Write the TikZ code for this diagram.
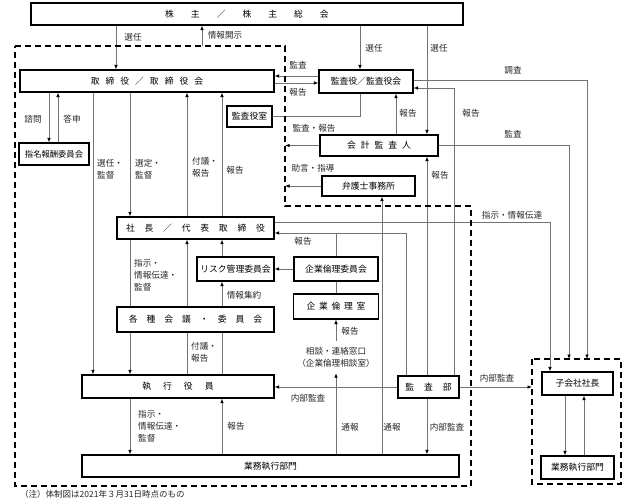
\documentclass[tikz,border=0pt]{standalone}
\usepackage{fontspec}
\setmainfont{Noto Sans CJK JP}
\usetikzlibrary{arrows.meta,backgrounds,calc}
\newcommand\sg[1]{\hspace*{#1pt}}
\tikzset{
 box/.style={draw=black, line width=1.3pt, fill=white, inner sep=0pt, font=\fontsize{8.8}{10}\selectfont},
 conn/.style={draw=black!55, line width=0.8pt},
 arr/.style={conn, -{Latex[length=4.5pt,width=3.6pt,color=black]}},
 lbl/.style={font=\fontsize{8.6}{12}\selectfont, inner sep=0pt, text=black!85, align=left},
 dbox/.style={draw=black, line width=1.3pt, dash pattern=on 6pt off 4pt},
}
\begin{document}
\begin{tikzpicture}[x=1pt,y=-1pt]
\path[use as bounding box] (0,0) rectangle (624,503);
% columns / rows
\foreach \n in {49,58,93,116,130,187,202,222,360,382,396,406,427,454,550,565,584}{\coordinate (x\n) at (\n,0);}
\foreach \n in {76,80,83,88,222,233}{\coordinate (r\n) at (0,\n);}
\coordinate (dR) at (285,0);
\coordinate (dS) at (532,0);
\coordinate (s569) at (569,359);
\coordinate (s587) at (587,359);
\coordinate (d202) at (202,46);

% boxes
\node[box,minimum width=432pt,minimum height=22pt] (sh) at (247,14) {株\sg{17}主\sg{17}／\sg{17}株\sg{17}主\sg{17}総\sg{17}会};
\node[box,minimum width=254pt,minimum height=22pt] (bd) at (147,81) {取\sg{6}締\sg{6}役\sg{6}／\sg{6}取\sg{6}締\sg{6}役\sg{6}会};
\node[box,minimum width=94pt,minimum height=23pt] (ab) at (366,81.5) {監査役／監査役会};
\node[box,minimum width=45pt,minimum height=21pt] (abr) at (249.5,116.5) {監査役室};
\node[box,minimum width=70pt,minimum height=22pt,font=\fontsize{8.3}{10}\selectfont] (nc) at (54,154) {指名報酬委員会};
\node[box,minimum width=118pt,minimum height=21pt] (ca) at (379,145.5) {会\sg{5}計\sg{5}監\sg{5}査\sg{5}人};
\node[box,minimum width=93pt,minimum height=20pt] (law) at (368.5,186) {弁護士事務所};
\node[box,minimum width=157pt,minimum height=22pt] (pr) at (195.5,228) {社\sg{9.8}長\sg{9.8}／\sg{9.8}代\sg{9.8}表\sg{9.8}取\sg{9.8}締\sg{9.8}役};
\node[box,minimum width=77pt,minimum height=24pt] (risk) at (235.5,269) {リスク管理委員会};
\node[box,minimum width=84pt,minimum height=24pt] (ecc) at (336,269) {企業倫理委員会};
\node[box,minimum width=85pt,minimum height=25pt] (eo) at (336,306.5) {企\sg{3.7}業\sg{3.7}倫\sg{3.7}理\sg{3.7}室};
\node[box,minimum width=157pt,minimum height=25pt] (mtg) at (195.5,319.5) {各\sg{9}種\sg{9}会\sg{9}議\sg{9}・\sg{9}委\sg{9}員\sg{9}会};
\node[box,minimum width=192pt,minimum height=23pt] (ex) at (178,386.5) {執\sg{12}行\sg{12}役\sg{12}員};
\node[box,minimum width=61pt,minimum height=22pt] (ia) at (428.5,387) {監\sg{10}査\sg{10}部};
\node[box,minimum width=377pt,minimum height=22pt] (bu) at (270.5,466) {業務執行部門};
\node[box,minimum width=71pt,minimum height=23pt] (sub) at (577.5,383.5) {子会社社長};
\node[box,minimum width=73pt,minimum height=23pt] (sbu) at (577.5,467.5) {業務執行部門};
\node[lbl,align=center,inner xsep=2pt,inner ysep=6pt] (consult) at (336,357) {相談・連絡窓口\\（企業倫理相談室）};

% dashed groups
\draw[dbox] (15,46) -- (285,46) -- (285,206) -- (471,206) -- (471,486) -- (15,486) -- cycle;
\draw[dbox] (532,359) rectangle (621,484);

\begin{scope}[on background layer]
\draw[arr] (sh.south -| x116) -- (bd.north -| x116);
\draw[arr] (d202) -- (sh.south -| d202);
\draw[arr] (sh.south -| x360) -- (ab.north -| x360);
\draw[arr] (sh.south -| x427) -- (ca.north -| x427);
\draw[arr] (ab.west |- r76) -- (bd.east |- r76);
\draw[arr] (bd.east |- r83) -- (ab.west |- r83);
\draw[conn] (abr.east) -| (ab.south -| x360);
\draw[arr] (ca.north -| x396) -- (ab.south -| x396);
\draw[arr] (ab.east |- r80) -| (s587);
\draw[arr] (ia.north -| x454) |- (ab.east |- r88);
\draw[arr] (ca.east) -| (s569);
\draw[arr] (ca.west) -- (ca.west -| dR);
\draw[arr] (law.west) -- (law.west -| dR);
\draw[arr] (bu.north -| x382) -- (law.south -| x382);
\draw[arr] (ia.north -| x427) -- (ca.south -| x427);
\draw[arr] (ia.south -| x427) -- (bu.north -| x427);
\draw[arr] (ia.north -| x406) |- (pr.east |- r233);
\draw[conn] (ecc.north) -- (ecc.north |- r233);
\draw[conn] (ecc.south) -- (eo.north);
\draw[arr] (consult.north) -- (eo.south);
\draw[arr] (bu.north -| consult) -- (consult.south);
\draw[arr] (ecc.west) -- (risk.east);
\draw[arr] (pr.east |- r222) -| (sub.north -| x550);
\draw[arr] (ia.east) -- (ia.east -| dS);
\draw[arr] (ia.west) -- (ia.west -| ex.east);
\draw[arr] (sub.south -| x565) -- (sbu.north -| x565);
\draw[arr] (sbu.north -| x584) -- (sub.south -| x584);
\draw[arr] (bd.south -| x49) -- (nc.north -| x49);
\draw[arr] (nc.north -| x58) -- (bd.south -| x58);
\draw[arr] (bd.south -| x93) -- (ex.north -| x93);
\draw[arr] (bd.south -| x130) -- (pr.north -| x130);
\draw[arr] (pr.north -| x187) -- (bd.south -| x187);
\draw[arr] (pr.north -| x222) -- (bd.south -| x222);
\draw[arr] (pr.south -| x130) -- (ex.north -| x130);
\draw[arr] (ex.north -| x187) -- (pr.south -| x187);
\draw[conn] (ex.north -| x222) -- (mtg.south -| x222);
\draw[arr] (mtg.north -| x222) -- (risk.south -| x222);
\draw[arr] (risk.north -| x222) -- (pr.south -| x222);
\draw[arr] (ex.south -| x130) -- (bu.north -| x130);
\draw[arr] (bu.north -| x222) -- (ex.south -| x222);
\end{scope}

% labels
\node[lbl] (l1) at (133,37) {選任};
\node[lbl] (l2) at (225,35) {情報開示};
\node[lbl] (l3) at (374,48) {選任};
\node[lbl] (l4) at (439,48) {選任};
\node[lbl] (l5) at (298,65) {監査};
\node[lbl] (l6) at (298,92) {報告};
\node[lbl] (l7) at (513,70) {調査};
\node[lbl] (l8) at (408,113) {報告};
\node[lbl] (l9) at (471,113) {報告};
\node[lbl] (l10) at (513,134) {監査};
\node[lbl] (l11) at (314,128) {監査・報告};
\node[lbl] (l12) at (313,168) {助言・指導};
\node[lbl] (l13) at (440,175) {報告};
\node[lbl] (l14) at (33,119) {諮問};
\node[lbl] (l15) at (72,119) {答申};
\node[lbl,anchor=west] (l16) at (97,169) {選任・\\監督};
\node[lbl,anchor=west] (l17) at (135,169) {選定・\\監督};
\node[lbl,anchor=west] (l18) at (192,167) {付議・\\報告};
\node[lbl] (l19) at (235,170) {報告};
\node[lbl,anchor=west] (l20) at (134,275) {指示・\\情報伝達・\\監督};
\node[lbl] (l21) at (244,295) {情報集約};
\node[lbl,anchor=west] (l22) at (191,352) {付議・\\報告};
\node[lbl] (l23) at (303,241) {報告};
\node[lbl] (l24) at (350,331) {報告};
\node[lbl] (l25) at (308,398) {内部監査};
\node[lbl] (l26) at (497,378) {内部監査};
\node[lbl] (l27) at (350,427) {通報};
\node[lbl] (l28) at (392,427) {通報};
\node[lbl] (l29) at (447,427) {内部監査};
\node[lbl,anchor=west] (l30) at (138,426) {指示・\\情報伝達・\\監督};
\node[lbl] (l31) at (236,426) {報告};
\node[lbl] (l32) at (512,215) {指示・情報伝達};
\node[lbl,anchor=west,font=\fontsize{8.5}{10}\selectfont] (note) at (20,494) {（注）体制図は2021年３月31日時点のもの};
\end{tikzpicture}
\end{document}
